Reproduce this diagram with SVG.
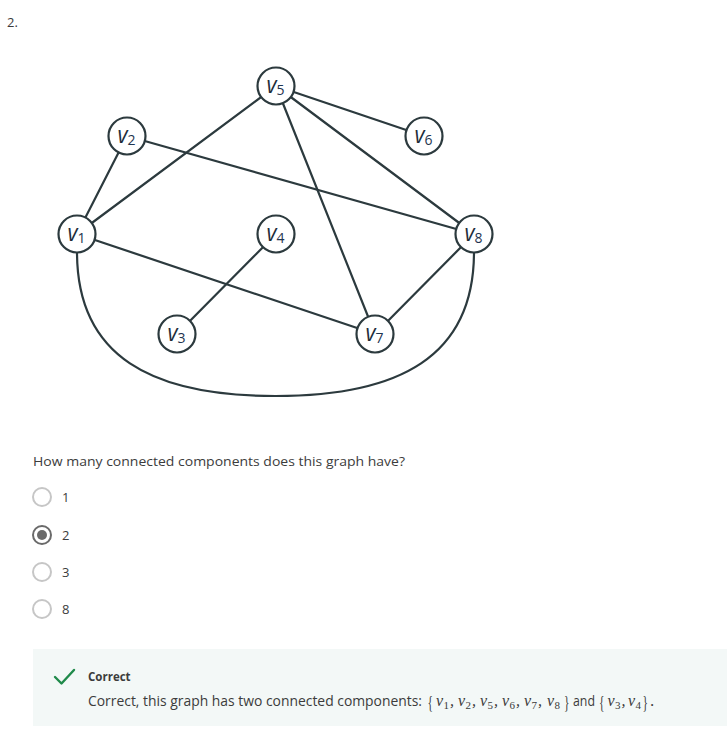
<svg xmlns="http://www.w3.org/2000/svg" width="727" height="738" viewBox="0 0 727 738">
<style>
.edge{stroke:#2c3a3e;stroke-width:2.2;fill:none;stroke-linecap:round}
.node circle{fill:#fff;stroke:#2c3a3e;stroke-width:2.2}
.lv{font-family:"Open Sans","DejaVu Sans",sans-serif;font-style:italic;font-size:24px;fill:#1f2d3a}
.ls{font-family:"Open Sans","DejaVu Sans",sans-serif;font-size:14px;fill:#1f3550}
.ui{font-family:"Open Sans","Liberation Sans",sans-serif;fill:#3c3c3c}
.mv{font-family:"Liberation Serif","DejaVu Serif",serif;font-style:italic;font-size:16px;fill:#3a3a3a}
.ms{font-family:"Liberation Serif","DejaVu Serif",serif;font-size:11px;fill:#3a3a3a}
.mb{font-family:"Liberation Serif","DejaVu Serif",serif;font-size:18px;fill:#3a3a3a}
.radio{fill:#fff;stroke:#c6c6c6;stroke-width:2}
</style>
<rect width="727" height="738" fill="#fff"/>
<text x="7" y="27" class="ui" font-size="13" fill="#555">2.</text>

<g id="connectors">
<line class="edge" x1="77" y1="234" x2="127" y2="136"/>
<line class="edge" x1="77" y1="234" x2="276" y2="86"/>
<line class="edge" x1="77" y1="234" x2="375" y2="334"/>
<line class="edge" x1="127" y1="136" x2="474" y2="234"/>
<line class="edge" x1="276" y1="86" x2="424" y2="136"/>
<line class="edge" x1="276" y1="86" x2="474" y2="234"/>
<line class="edge" x1="276" y1="86" x2="375" y2="334"/>
<line class="edge" x1="474" y1="234" x2="375" y2="334"/>
<line class="edge" x1="276" y1="234" x2="177" y2="334"/>
<path class="edge" d="M77,252 C77,357 152,396 275.5,396 C399,396 474,357 474,252"/>
</g>

<g id="v1" class="node"><circle cx="77" cy="234" r="18.5"/><text class="lv" x="67.5" y="241" textLength="10" lengthAdjust="spacingAndGlyphs">v</text><text class="ls" x="77.5" y="242.5">1</text></g>
<g id="v2" class="node"><circle cx="127" cy="136" r="18.5"/><text class="lv" x="117.5" y="143" textLength="10" lengthAdjust="spacingAndGlyphs">v</text><text class="ls" x="127.5" y="144.5">2</text></g>
<g id="v3" class="node"><circle cx="177" cy="334" r="18.5"/><text class="lv" x="167.5" y="341" textLength="10" lengthAdjust="spacingAndGlyphs">v</text><text class="ls" x="177.5" y="342.5">3</text></g>
<g id="v4" class="node"><circle cx="276" cy="234" r="18.5"/><text class="lv" x="266.5" y="241" textLength="10" lengthAdjust="spacingAndGlyphs">v</text><text class="ls" x="276.5" y="242.5">4</text></g>
<g id="v5" class="node"><circle cx="276" cy="86" r="18.5"/><text class="lv" x="266.5" y="93" textLength="10" lengthAdjust="spacingAndGlyphs">v</text><text class="ls" x="276.5" y="94.5">5</text></g>
<g id="v6" class="node"><circle cx="424" cy="136" r="18.5"/><text class="lv" x="414.5" y="143" textLength="10" lengthAdjust="spacingAndGlyphs">v</text><text class="ls" x="424.5" y="144.5">6</text></g>
<g id="v7" class="node"><circle cx="375" cy="334" r="18.5"/><text class="lv" x="365.5" y="341" textLength="10" lengthAdjust="spacingAndGlyphs">v</text><text class="ls" x="375.5" y="342.5">7</text></g>
<g id="v8" class="node"><circle cx="474" cy="234" r="18.5"/><text class="lv" x="464.5" y="241" textLength="10" lengthAdjust="spacingAndGlyphs">v</text><text class="ls" x="474.5" y="242.5">8</text></g>

<text x="33" y="466" class="ui" font-size="13.5" textLength="372" lengthAdjust="spacingAndGlyphs">How many connected components does this graph have?</text>

<circle class="radio" cx="42" cy="497" r="9"/>
<text x="62" y="502" class="ui" font-size="13">1</text>
<circle cx="42" cy="535" r="9" fill="#fff" stroke="#6a6a6a" stroke-width="2"/>
<circle cx="42" cy="535" r="5" fill="#6a6a6a"/>
<text x="62" y="540" class="ui" font-size="13">2</text>
<circle class="radio" cx="42" cy="572" r="9"/>
<text x="62" y="577" class="ui" font-size="13">3</text>
<circle class="radio" cx="42" cy="609" r="9"/>
<text x="62" y="614" class="ui" font-size="13">8</text>

<rect x="33" y="649" width="694" height="77" fill="#f3f8f7"/>
<polyline points="55,677 61.5,683.5 74,670" fill="none" stroke="#1f8a4a" stroke-width="2.4" stroke-linecap="round" stroke-linejoin="round"/>
<text x="88" y="681" class="ui" font-size="11.5" font-weight="bold" fill="#333">Correct</text>
<text x="88" y="706" class="ui" font-size="14.5" textLength="334" lengthAdjust="spacingAndGlyphs">Correct, this graph has two connected components:</text>

<text x="427.5" y="709" class="mb" textLength="5.5" lengthAdjust="spacingAndGlyphs">{</text>
<text x="436" y="706" class="mv">v</text><text x="443.5" y="709" class="ms">1</text><text x="450" y="706" class="mv" font-style="normal">,</text>
<text x="458" y="706" class="mv">v</text><text x="465.5" y="709" class="ms">2</text><text x="472" y="706" class="mv" font-style="normal">,</text>
<text x="480" y="706" class="mv">v</text><text x="487.5" y="709" class="ms">5</text><text x="494" y="706" class="mv" font-style="normal">,</text>
<text x="502" y="706" class="mv">v</text><text x="509.5" y="709" class="ms">6</text><text x="516" y="706" class="mv" font-style="normal">,</text>
<text x="524" y="706" class="mv">v</text><text x="531.5" y="709" class="ms">7</text><text x="538" y="706" class="mv" font-style="normal">,</text>
<text x="547" y="706" class="mv">v</text><text x="554.5" y="709" class="ms">8</text>
<text x="564" y="709" class="mb" textLength="5.5" lengthAdjust="spacingAndGlyphs">}</text>
<text x="573" y="706" class="ui" font-size="14.5" textLength="22" lengthAdjust="spacingAndGlyphs">and</text>
<text x="599" y="709" class="mb" textLength="5.5" lengthAdjust="spacingAndGlyphs">{</text>
<text x="607.5" y="706" class="mv">v</text><text x="615" y="709" class="ms">3</text><text x="621.5" y="706" class="mv" font-style="normal">,</text>
<text x="628" y="706" class="mv">v</text><text x="635.5" y="709" class="ms">4</text>
<text x="642.5" y="709" class="mb" textLength="5.5" lengthAdjust="spacingAndGlyphs">}</text>
<text x="650.5" y="706" class="mv" font-style="normal">.</text>
</svg>
